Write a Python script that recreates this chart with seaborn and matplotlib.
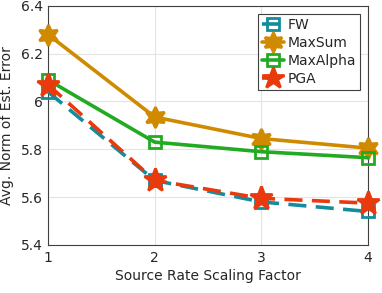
import matplotlib
matplotlib.use("Agg")
import matplotlib.pyplot as plt
import seaborn as sns
import pandas as pd

x_vals = [1, 2, 3, 4]
fw = [6.04, 5.67, 5.58, 5.54]
maxsum = [6.28, 5.935, 5.845, 5.805]
maxalpha = [6.09, 5.83, 5.79, 5.765]
pga = [6.07, 5.67, 5.595, 5.575]
names = ["FW", "MaxSum", "MaxAlpha", "PGA"]

series = {"FW": fw, "MaxSum": maxsum, "MaxAlpha": maxalpha, "PGA": pga}
rows = []
for n in names:
    for xv, yv in zip(x_vals, series[n]):
        rows.append({"x": xv, "y": yv, "method": n})
df = pd.DataFrame(rows)

sns.set_theme(style="whitegrid")
plt.rcParams['font.family'] = ['DejaVu Sans']

colors = {"FW": "#138c9e", "MaxSum": "#cf8a00", "MaxAlpha": "#22ab22", "PGA": "#e83a0c"}
styles = {
    "FW": dict(ls=(0, (5, 2.6)), marker="s", ms=9, fill=False),
    "MaxSum": dict(ls="-", marker=(6, 1, 0), ms=15, fill=True),
    "MaxAlpha": dict(ls="-", marker="s", ms=9, fill=False),
    "PGA": dict(ls=(0, (5, 2.6)), marker="*", ms=17, fill=True),
}

fig = plt.figure(figsize=(3.82, 2.93), dpi=100)
ax = fig.add_axes([0.126, 0.164, 0.837, 0.816])

handles = []
for n in names:
    sub = df[df["method"] == n]
    st = styles[n]
    sns.lineplot(data=sub, x="x", y="y", ax=ax, color=colors[n], legend=False)
    ln = ax.lines[-1]
    ln.set_linestyle(st["ls"])
    ln.set_linewidth(2.6)
    ln.set_marker(st["marker"])
    ln.set_markersize(st["ms"])
    ln.set_markeredgewidth(2)
    ln.set_markeredgecolor(colors[n])
    ln.set_markerfacecolor("none" if not st["fill"] else colors[n])
    ln.set_clip_on(False)
    ln.set_label(n)
    ln.set_zorder(3)
    handles.append(ln)

ax.set_xlim(1, 4)
ax.set_ylim(5.4, 6.4)
ax.set_xticks([1, 2, 3, 4])
ax.set_xticklabels(["1", "2", "3", "4"])
ax.set_yticks([5.4, 5.6, 5.8, 6.0, 6.2, 6.4])
ax.set_yticklabels(["5.4", "5.6", "5.8", "6", "6.2", "6.4"])
ax.set_xlabel("Source Rate Scaling Factor", fontsize=10, color="#262626", labelpad=3)
ax.set_ylabel("Avg. Norm of Est. Error", fontsize=10, color="#262626", labelpad=5)
ax.tick_params(axis="both", labelsize=10, colors="#262626", length=0, pad=4)
ax.set_facecolor("white")
ax.grid(True, color="#e3e3e3", linewidth=0.8)
for s in ax.spines.values():
    s.set_edgecolor("#404040")
    s.set_linewidth(0.8)
    s.set_visible(True)
    s.set_zorder(2)

leg = ax.legend(handles=handles, labels=names, loc="upper right", fontsize=10,
                frameon=True, fancybox=False, edgecolor="#404040", framealpha=1,
                borderpad=0.25, labelspacing=0.3, handlelength=1.6,
                handletextpad=0.25, borderaxespad=0.6, markerscale=0.95,
                bbox_to_anchor=(1.0, 1.0))
leg.get_frame().set_linewidth(0.8)
leg.set_zorder(5)

fig.savefig("out.png", dpi=100)
